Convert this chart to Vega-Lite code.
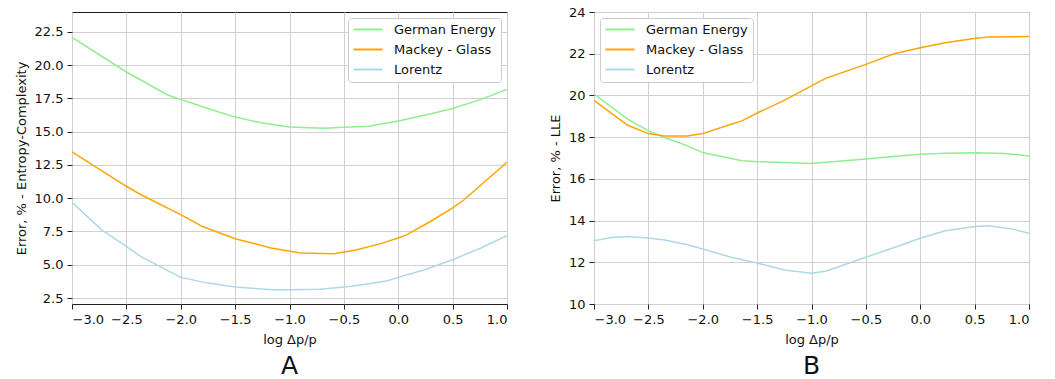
{
  "$schema": "https://vega.github.io/schema/vega-lite/v6.json",
  "padding": {"left": 14, "top": 5, "right": 10, "bottom": 0},
  "background": "white",
  "config": {
    "font": "DejaVu Sans",
    "view": {"stroke": "#222222", "strokeWidth": 1},
    "axis": {
      "labelFont": "DejaVu Sans", "titleFont": "DejaVu Sans",
      "labelFontSize": 13, "titleFontSize": 13, "titleFontWeight": "normal",
      "labelColor": "#111", "titleColor": "#111",
      "gridColor": "#d0d0d0", "gridWidth": 1,
      "domain": false, "tickColor": "#222", "tickSize": 5,
      "labelPadding": 4
    },
    "legend": {
      "labelFont": "DejaVu Sans", "labelFontSize": 13, "labelColor": "#111",
      "symbolType": "M-1.2,0H4.6", "symbolSize": 100, "symbolStrokeWidth": 2,
      "fillColor": "white", "strokeColor": "#cccccc", "cornerRadius": 3,
      "padding": 5, "rowPadding": 6, "labelOffset": 28, "offset": 6
    },
    "title": {"font": "DejaVu Sans", "fontSize": 25, "fontWeight": "normal", "color": "#111", "baseline": "bottom"},
    "concat": {"spacing": 40}
  },
  "data": {"values": [
    {"p":"A","s":"German Energy","x":-3.0,"y":22.1},
    {"p":"A","s":"German Energy","x":-2.5,"y":19.49},
    {"p":"A","s":"German Energy","x":-2.12,"y":17.76},
    {"p":"A","s":"German Energy","x":-2.0,"y":17.43},
    {"p":"A","s":"German Energy","x":-1.75,"y":16.75},
    {"p":"A","s":"German Energy","x":-1.5,"y":16.1},
    {"p":"A","s":"German Energy","x":-1.26,"y":15.67},
    {"p":"A","s":"German Energy","x":-1.0,"y":15.35},
    {"p":"A","s":"German Energy","x":-0.69,"y":15.27},
    {"p":"A","s":"German Energy","x":-0.5,"y":15.33},
    {"p":"A","s":"German Energy","x":-0.27,"y":15.42},
    {"p":"A","s":"German Energy","x":0.0,"y":15.8},
    {"p":"A","s":"German Energy","x":0.27,"y":16.3},
    {"p":"A","s":"German Energy","x":0.5,"y":16.75},
    {"p":"A","s":"German Energy","x":0.76,"y":17.43},
    {"p":"A","s":"German Energy","x":1.0,"y":18.18},
    {"p":"A","s":"Mackey - Glass","x":-3.0,"y":13.49},
    {"p":"A","s":"Mackey - Glass","x":-2.5,"y":10.9},
    {"p":"A","s":"Mackey - Glass","x":-2.37,"y":10.28},
    {"p":"A","s":"Mackey - Glass","x":-2.0,"y":8.77},
    {"p":"A","s":"Mackey - Glass","x":-1.8,"y":7.87},
    {"p":"A","s":"Mackey - Glass","x":-1.5,"y":6.96},
    {"p":"A","s":"Mackey - Glass","x":-1.17,"y":6.26},
    {"p":"A","s":"Mackey - Glass","x":-0.9,"y":5.88},
    {"p":"A","s":"Mackey - Glass","x":-0.59,"y":5.83},
    {"p":"A","s":"Mackey - Glass","x":-0.38,"y":6.13},
    {"p":"A","s":"Mackey - Glass","x":-0.16,"y":6.59},
    {"p":"A","s":"Mackey - Glass","x":0.0,"y":7.01},
    {"p":"A","s":"Mackey - Glass","x":0.08,"y":7.26},
    {"p":"A","s":"Mackey - Glass","x":0.3,"y":8.27},
    {"p":"A","s":"Mackey - Glass","x":0.5,"y":9.27},
    {"p":"A","s":"Mackey - Glass","x":0.6,"y":9.85},
    {"p":"A","s":"Mackey - Glass","x":1.0,"y":12.71},
    {"p":"A","s":"Lorentz","x":-3.0,"y":9.7},
    {"p":"A","s":"Lorentz","x":-2.73,"y":7.64},
    {"p":"A","s":"Lorentz","x":-2.5,"y":6.39},
    {"p":"A","s":"Lorentz","x":-2.37,"y":5.63},
    {"p":"A","s":"Lorentz","x":-2.0,"y":4.05},
    {"p":"A","s":"Lorentz","x":-1.75,"y":3.62},
    {"p":"A","s":"Lorentz","x":-1.5,"y":3.32},
    {"p":"A","s":"Lorentz","x":-1.12,"y":3.1},
    {"p":"A","s":"Lorentz","x":-0.72,"y":3.15},
    {"p":"A","s":"Lorentz","x":-0.45,"y":3.37},
    {"p":"A","s":"Lorentz","x":-0.27,"y":3.57},
    {"p":"A","s":"Lorentz","x":-0.1,"y":3.8},
    {"p":"A","s":"Lorentz","x":0.0,"y":4.05},
    {"p":"A","s":"Lorentz","x":0.24,"y":4.63},
    {"p":"A","s":"Lorentz","x":0.5,"y":5.38},
    {"p":"A","s":"Lorentz","x":0.76,"y":6.26},
    {"p":"A","s":"Lorentz","x":1.0,"y":7.19},
    {"p":"B","s":"German Energy","x":-3.0,"y":20.06},
    {"p":"B","s":"German Energy","x":-2.69,"y":18.86},
    {"p":"B","s":"German Energy","x":-2.5,"y":18.3},
    {"p":"B","s":"German Energy","x":-2.35,"y":17.98},
    {"p":"B","s":"German Energy","x":-2.14,"y":17.58},
    {"p":"B","s":"German Energy","x":-2.0,"y":17.26},
    {"p":"B","s":"German Energy","x":-1.64,"y":16.87},
    {"p":"B","s":"German Energy","x":-1.49,"y":16.82},
    {"p":"B","s":"German Energy","x":-1.0,"y":16.74},
    {"p":"B","s":"German Energy","x":-0.5,"y":16.95},
    {"p":"B","s":"German Energy","x":-0.2,"y":17.1},
    {"p":"B","s":"German Energy","x":0.0,"y":17.18},
    {"p":"B","s":"German Energy","x":0.23,"y":17.23},
    {"p":"B","s":"German Energy","x":0.51,"y":17.25},
    {"p":"B","s":"German Energy","x":0.77,"y":17.22},
    {"p":"B","s":"German Energy","x":1.0,"y":17.1},
    {"p":"B","s":"Mackey - Glass","x":-3.0,"y":19.77},
    {"p":"B","s":"Mackey - Glass","x":-2.87,"y":19.26},
    {"p":"B","s":"Mackey - Glass","x":-2.69,"y":18.57},
    {"p":"B","s":"Mackey - Glass","x":-2.5,"y":18.17},
    {"p":"B","s":"Mackey - Glass","x":-2.35,"y":18.06},
    {"p":"B","s":"Mackey - Glass","x":-2.14,"y":18.06},
    {"p":"B","s":"Mackey - Glass","x":-2.0,"y":18.17},
    {"p":"B","s":"Mackey - Glass","x":-1.83,"y":18.46},
    {"p":"B","s":"Mackey - Glass","x":-1.64,"y":18.78},
    {"p":"B","s":"Mackey - Glass","x":-1.49,"y":19.18},
    {"p":"B","s":"Mackey - Glass","x":-1.26,"y":19.74},
    {"p":"B","s":"Mackey - Glass","x":-1.0,"y":20.46},
    {"p":"B","s":"Mackey - Glass","x":-0.87,"y":20.82},
    {"p":"B","s":"Mackey - Glass","x":-0.5,"y":21.49},
    {"p":"B","s":"Mackey - Glass","x":-0.24,"y":22.0},
    {"p":"B","s":"Mackey - Glass","x":0.0,"y":22.29},
    {"p":"B","s":"Mackey - Glass","x":0.23,"y":22.53},
    {"p":"B","s":"Mackey - Glass","x":0.51,"y":22.74},
    {"p":"B","s":"Mackey - Glass","x":0.63,"y":22.8},
    {"p":"B","s":"Mackey - Glass","x":1.0,"y":22.82},
    {"p":"B","s":"Lorentz","x":-3.0,"y":13.03},
    {"p":"B","s":"Lorentz","x":-2.84,"y":13.19},
    {"p":"B","s":"Lorentz","x":-2.69,"y":13.24},
    {"p":"B","s":"Lorentz","x":-2.5,"y":13.16},
    {"p":"B","s":"Lorentz","x":-2.35,"y":13.07},
    {"p":"B","s":"Lorentz","x":-2.14,"y":12.84},
    {"p":"B","s":"Lorentz","x":-2.0,"y":12.64},
    {"p":"B","s":"Lorentz","x":-1.74,"y":12.24},
    {"p":"B","s":"Lorentz","x":-1.49,"y":11.95},
    {"p":"B","s":"Lorentz","x":-1.25,"y":11.63},
    {"p":"B","s":"Lorentz","x":-1.0,"y":11.47},
    {"p":"B","s":"Lorentz","x":-0.87,"y":11.57},
    {"p":"B","s":"Lorentz","x":-0.5,"y":12.24},
    {"p":"B","s":"Lorentz","x":-0.24,"y":12.71},
    {"p":"B","s":"Lorentz","x":0.0,"y":13.15},
    {"p":"B","s":"Lorentz","x":0.23,"y":13.51},
    {"p":"B","s":"Lorentz","x":0.51,"y":13.71},
    {"p":"B","s":"Lorentz","x":0.63,"y":13.75},
    {"p":"B","s":"Lorentz","x":0.85,"y":13.59},
    {"p":"B","s":"Lorentz","x":1.0,"y":13.39}
  ]},
  "hconcat": [
    {
      "width": 435, "height": 292,
      "title": {"text": "A", "orient": "bottom", "offset": 8},
      "transform": [{"filter": "datum.p === 'A'"}],
      "mark": {"type": "line", "strokeWidth": 1.5, "clip": true},
      "encoding": {
        "x": {"field": "x", "type": "quantitative", "scale": {"domain": [-3, 1], "nice": false, "zero": false},
              "axis": {"values": [-3, -2.5, -2, -1.5, -1, -0.5, 0, 0.5, 1], "format": ".1f", "title": "log Δp/p", "titlePadding": 7}},
        "y": {"field": "y", "type": "quantitative", "scale": {"domain": [2.05, 24.0], "nice": false, "zero": false},
              "axis": {"values": [2.5, 5, 7.5, 10, 12.5, 15, 17.5, 20, 22.5], "format": ".1f", "title": "Error, % - Entropy-Complexity", "titlePadding": 6}},
        "color": {"field": "s", "type": "nominal",
                  "scale": {"domain": ["German Energy", "Mackey - Glass", "Lorentz"], "range": ["#90EE90", "#FFA500", "#ADD8E6"]},
                  "legend": {"title": null, "orient": "top-right"}}
      }
    },
    {
      "width": 435, "height": 292,
      "title": {"text": "B", "orient": "bottom", "offset": 8},
      "transform": [{"filter": "datum.p === 'B'"}],
      "mark": {"type": "line", "strokeWidth": 1.5, "clip": true},
      "encoding": {
        "x": {"field": "x", "type": "quantitative", "scale": {"domain": [-3, 1], "nice": false, "zero": false},
              "axis": {"values": [-3, -2.5, -2, -1.5, -1, -0.5, 0, 0.5, 1], "format": ".1f", "title": "log Δp/p", "titlePadding": 7}},
        "y": {"field": "y", "type": "quantitative", "scale": {"domain": [10, 24], "nice": false, "zero": false},
              "axis": {"values": [10, 12, 14, 16, 18, 20, 22, 24], "format": "d", "title": "Error, % - LLE", "titlePadding": 6}},
        "color": {"field": "s", "type": "nominal",
                  "scale": {"domain": ["German Energy", "Mackey - Glass", "Lorentz"], "range": ["#90EE90", "#FFA500", "#ADD8E6"]},
                  "legend": {"title": null, "orient": "top-left"}}
      }
    }
  ],
  "resolve": {"scale": {"y": "independent", "color": "independent"}, "legend": {"color": "independent"}}
}
